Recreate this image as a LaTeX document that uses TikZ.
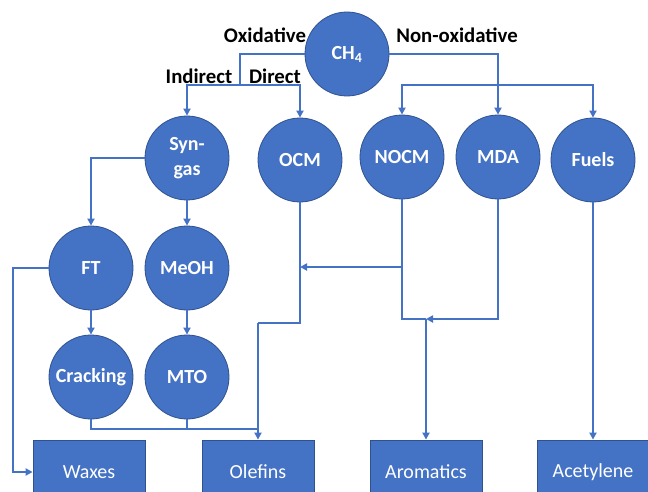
\documentclass[tikz,border=0pt]{standalone}
\usepackage{fontspec}
\setmainfont{Carlito}
\usetikzlibrary{arrows.meta}
\definecolor{obl}{HTML}{4472C4}
\definecolor{obd}{HTML}{2F528F}
\tikzset{
  proc/.style={circle,draw=obd,line width=0.8pt,fill=obl,minimum size=84pt,inner sep=0pt,
    text=white,font=\bfseries\fontsize{20}{25}\selectfont,align=center},
  prod/.style={rectangle,draw=obd,line width=0.8pt,fill=obl,minimum width=112pt,minimum height=64pt,
    inner sep=0pt,text=white,font=\fontsize{20}{24}\selectfont},
  lab/.style={font=\bfseries\fontsize{20.8}{24}\selectfont,text=black,inner sep=0pt},
  conn/.style={draw=obl,line width=2.6pt},
  arr/.style={conn,-{Triangle[length=7pt,width=7pt]}},
}
\begin{document}
\begin{tikzpicture}[x=1pt,y=-1pt]
\clip (0,0) rectangle (648,492);
\fill[white] (0,0) rectangle (648,492);
% nodes
\node[proc] (ch4) at (347,54) {CH\textsubscript{4}};
\node[proc] (syn) at (187,158) {Syn-\\gas};
\node[proc] (ocm) at (300,160) {OCM};
\node[proc] (nocm) at (402,157) {NOCM};
\node[proc] (mda) at (498,157) {MDA};
\node[proc] (fuels) at (593,160) {Fuels};
\node[proc] (ft) at (91,268) {FT};
\node[proc] (meoh) at (187,268) {MeOH};
\node[proc] (crack) at (91,377) {Cracking};
\node[proc] (mto) at (187,377) {MTO};
\node[prod] (waxes) at (89,472) {Waxes};
\node[prod] (olefins) at (258,472) {Olefins};
\node[prod] (arom) at (426,472) {Aromatics};
\node[prod] (acet) at (593,472) {Acetylene};
% labels
\node[lab] (loxi) at (265,35) {Oxidative};
\node[lab] (lnon) at (457,35) {Non-oxidative};
\node[lab] (lind) at (199,76) {Indirect};
\node[lab] (ldir) at (275,76) {Direct};
% junctions
\coordinate (oxj) at (240,85);
\coordinate (nj) at (498,85);
\coordinate (ftl) at (13,268);
\coordinate (oj) at (258,323);
\coordinate (cj) at (258,429);
\coordinate (nocmmid) at (402,267);
\coordinate (ocmmid) at (300,267);
\coordinate (aj) at (426,319);
% connectors
\draw[conn] (ch4) -| (oxj);
\draw[arr] (oxj) -| (syn);
\draw[arr] (oxj) -| (ocm);
\draw[arr] (ch4) -| (mda);
\draw[arr] (nj) -| (nocm);
\draw[arr] (nj) -| (fuels);
\draw[arr] (syn) -| (ft);
\draw[arr] (syn) -- (meoh);
\draw[arr] (ft) -- (crack);
\draw[arr] (meoh) -- (mto);
\draw[arr] (ft) -- (ftl) |- (waxes);
\draw[conn] (ocm) |- (oj);
\draw[arr] (oj) -- (olefins);
\draw[conn] (crack) |- (cj);
\draw[conn] (mto) |- (cj);
\draw[arr] (nocmmid) -- (ocmmid);
\draw[conn] (nocm) |- (aj);
\draw[arr] (mda) |- (aj);
\draw[arr] (aj) -- (arom);
\draw[arr] (fuels) -- (acet);
\end{tikzpicture}
\end{document}
